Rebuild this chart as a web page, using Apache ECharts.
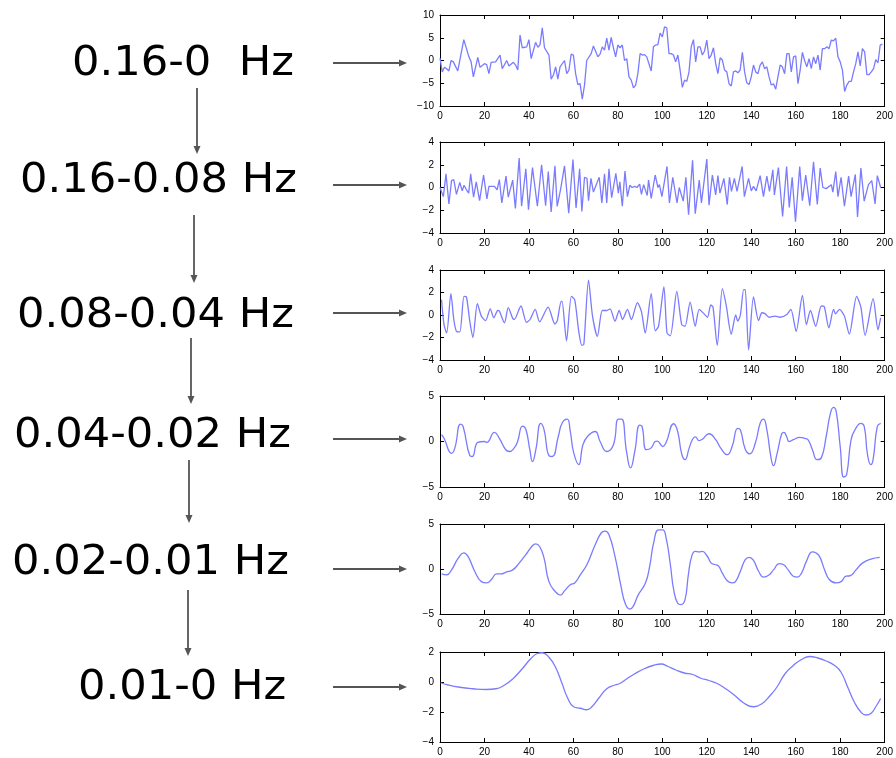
<!DOCTYPE html>
<html><head><meta charset="utf-8">
<script src="https://cdn.jsdelivr.net/npm/echarts@6/dist/echarts.min.js"></script>
<style>html,body{margin:0;padding:0;background:#fff}#c{width:896px;height:758px}</style>
</head><body><div id="c"></div><script>
// ---------- data ----------
const bandLabels = ['0.16-0  Hz', '0.16-0.08 Hz', '0.08-0.04 Hz', '0.04-0.02 Hz', '0.02-0.01 Hz', '0.01-0 Hz'];
const xTicks = [0, 20, 40, 60, 80, 100, 120, 140, 160, 180, 200];
const yTicks1 = [-10, -5, 0, 5, 10];
const yTicks2 = [-4, -2, 0, 2, 4];
const yTicks3 = [-4, -2, 0, 2, 4];
const yTicks4 = [-5, 0, 5];
const yTicks5 = [-5, 0, 5];
const yTicks6 = [-4, -2, 0, 2];

const p1x = [0,1,2,3,4, 5,6,8,10.7,13, 14,15,17,18,20, 21,22,23,25,27, 28,30,31,33,34, 35,36,37,39,40, 41,43,44,45,46, 47,49,50,51,52, 53,54,56,57,58, 59,60,61,62,63, 64,65,66,68,69, 71,72,73,74,75, 76,77,78,79,80, 81,82,83,84,85, 86,87,88,89,90, 91,92,93,95,96, 97,98,99,100,101, 102,103,104,105,106, 107,108,109,110,111, 112,113,114,115,116, 117,118,119,120,121, 122,123,124,125,126, 127,128,129,130,131, 132,133,134,135,136, 137,138,139,140,141, 142,143,144,145,146, 147,148,149,150,151, 152,153,154,155,156, 157,158,159,160,161, 162,163,164,165,166, 167,168,169,170,171, 172,173,174,175,176, 177,178,179,180,181, 182,183,184,185,186, 187,188,189,190,191, 192,193,194,195,196, 197,198,199];
const p1y = [0.5,-2.5,-1.5,-1.8,-2.3, 0,-0.3,-2.3,4.6,0.8, -0.3,-3.6,0.7,-1.5,-0.7, -0.9,-2.9,-0.4,-0.3,1.2, -1.8,0,-1.2,-0.4,-1.0, -2.1,5.6,2.8,3.0,4.6, 0.4,4.0,2.9,3.5,7.2, 2.8,1.2,-4.1,-3.2,-1.4, -4.1,-1.4,0,-2.9,-2.1, 1.4,1.2,-2.9,-5.3,-5.1, -8.5,-5.4,0,1.5,3.2, 0.8,1.4,3.0,2.3,4.9, 2.3,5.1,2.8,0.8,3.4, 2.8,3.4,0,0.4,-3.6, -4.3,-6.0,-5.4,-2.9,1.5, 1.2,1.3,0.8,-2.3,3.0, 3.4,3.5,6.0,5.2,7.4, 7.2,1.5,1.5,1.2,-0.3, 1.2,-2.1,-5.9,-4.3,-4.6, -2.5,3.0,4.6,-0.3,3.0, 3.0,1.2,2.1,4.5,0.4, 1.2,2.8,-0.7,-2.9,0.6, 0.1,-2.1,-2.5,-5.1,-5.6, -2.5,-2.3,-2.7,-2.1,1.8, -2.5,-4.9,-5.3,-3.6,-1.0, -2.5,-2.9,-1.0,-0.3,-1.8, -1.4,-3.6,-5.4,-5.1,-6.3, -3.6,-1.0,-1.4,-2.9,1.5, 1.5,-2.5,0.8,1.0,-5.1, -2.1,1.8,0,-1.4,0.4, -1.8,0.8,-0.7,1.2,-2.1, 2.6,2.6,3.0,2.6,4.5, 4.3,4.9,0.8,-0.3,-2.1, -6.8,-5.4,-4.6,-4.6,-2.5, -0.7,1.9,-1.2,2.6,1.9, -3.1,-3.1,-2.5,-1.8,0.2, -0.5,3.4,3.6];

const p2x = [0,1.5,2.7,4,5.2, 6.2,7.4,8.9,10,10.8, 11.9,12.9,13.8,15.1,16.3, 17,17.8,19.6,21.1,22, 24.5,25.7,26.7,27.8,29.7, 30.7,32.7,33.9,35.6,36.7, 38.6,39.8,41.6,43.8,45.7, 47.5,48.7,50,51.7,52.7, 54.2,56,57.9,59.8,61.2, 62.8,63.8,65,66.1,66.8, 67.9,69,71.6,72.8,74, 75,76,77.2,79.1,80.2, 80.9,82,83.2,84.3,85.4, 86.4,87.6,88.6,89.8,90.6, 91.6,92.4,93.2,93.8,95, 96.8,98,98.7,99.8,102.1, 103.2,104.7,106.6,107.6,109.4, 110.6,111.8,113.6,114.8,116.6, 117.6,120,121,122.5,124, 125,125.9,127.7,129.2,130.2, 131.1,132.4,133.6,134.4,135.9, 136.9,138.8,140,141,142.2, 143,144,145.5,147,148.2, 149.7,150.4,152.2,154.1,155.9, 157.1,158.4,159.9,161.8,163, 164.5,166.3,168,169.7,171, 172.2,173.7,176,176.7,178, 179,180.4,181.9,183.8,184.9, 186.8,187.8,189.3,190.8,192.7, 194.2,195.7,196.7,198.2];
const p2y = [0,-0.8,1.2,-1.45,0.6, 0.7,-0.6,0.45,-0.3,0.2, -0.2,-0.5,1.2,-0.85,0.5, 0.45,-1.15,1.1,-1.0,0.1, 0.1,-0.2,0.7,-1.35,1.0, -0.85,0.65,-1.85,2.6,-1.65, 1.65,-1.95,1.75,-1.65,2.0, -1.6,1.4,-2.15,1.9,-1.65, -0.2,1.9,-2.25,2.45,-1.8, 1.65,-2.1,0.9,0.8,-1.15, 0.8,-0.4,0.9,-1.35,1.2, -1.35,1.65,-0.9,1.25,-0.5, 0.5,-1.65,1.45,-0.8,0.2, 0,0.1,0,0.3,-0.6, 0.25,0.15,-0.7,0.65,-0.95, 1.1,0,0.25,-0.8,1.85, -1.35,0.9,-1.35,0,-1.2, 0.9,-2.4,2.4,-2.3,0.65, -1.35,2.5,-1.55,1.1,-0.65, 1.05,-0.5,0.8,-1.5,0.9, -0.35,0.8,-0.35,-0.2,1.85, -0.8,0.8,-0.3,0.1,-0.3, -0.2,1.05,-0.8,1.0,-0.35, 1.55,-0.65,1.75,-2.55,1.85, -1.75,0.9,-3.0,1.85,-1.15, 1.1,-1.6,2.25,-1.5,1.7, 0,-0.1,0.25,-0.4,1.4, -0.8,0.9,-1.65,1.0,-0.8, 1.15,-2.6,1.7,-1.2,0.25, 0.6,-1.45,1.05,0];

const p3x = [0.7,1.8,3,4.9,6.2, 7.4,8.9,10.8,11.9,13.4, 14.8,16.8,18.6,20.5,22.6, 24.2,26,26.7,29,30.7, 32.7,33.4,36.4,38.9,40.5, 42.8,44.8,48.6,51.7,52.7, 54.5,54.9,56.9,59.1,60.6, 62.4,63.8,64.7,66.8,68.6, 70.8,73,75,76.5,78.7, 80.6,82.1,84.3,86.1,88.8, 90.6,92.3,95,96.8,98.3, 100.7,102.1,103.6,106.5,108.7, 110.2,112.5,114.8,116.6,118.8, 120.3,121.8,122.8,124.7,127, 128.7,131,133,133.9,135.1, 136.6,137.3,138.8,141,143.3, 144.8,146.3,148,150.7,153, 156,157.8,160.2,163,164.8, 166.6,169,171.5,172.8,174.9, 177,177.9,179.7,181.9,184.1, 187.4,189.3,191.2,194.8,197, 198.2];
const p3y = [1.35,-0.85,-1.6,1.9,-0.4, -1.45,-1.5,1.65,1.6,-0.55, -2.0,1.0,-0.1,-0.5,0.55, -0.25,0.4,0.35,-0.7,0.65, -0.3,-0.4,0.8,-0.65,-0.4, 0.5,-0.6,0.7,-0.8,-0.55, 1.2,1.2,-2.3,1.65,1.35, -1.45,-2.7,-2.6,3.1,-0.1, -1.9,0.4,0.4,0.55,-0.55, 0.4,-0.4,0.5,-0.4,1.1, 0.3,-1.6,1.9,-1.4,-1.0, 2.5,-1.6,-1.85,2.1,-0.85, -1.0,1.15,-1.0,0.5,0.1, -0.2,0.9,0.7,-2.7,2.35, 0.9,-1.7,0,-0.55,0, 2.25,2.25,-3.1,1.6,-0.5, 0.2,0.1,-0.2,-0.1,-0.2, 0.05,0.5,-1.45,1.75,-0.85, 0.4,-1.0,0.8,0.75,-1.15, 0.5,0.1,0.5,-0.1,-1.7, 1.65,0.7,-1.8,1.45,-1.3, -0.25];

const p4x = [0.7,1.8,5.2,6.7,9.2, 10.4,13.4,14.5,17,20, 21,24.5,26.7,29.4,31.2, 33.4,34.9,37.1,38.6,40.4, 41.6,43.1,45.3,46.8,49, 50.5,53.2,54.9,57.2,58.6, 60.1,62.4,64.3,66.5,69.8, 72,75,78,80.2,81.7, 83.9,85.7,87.6,89.8,90.9, 92.8,95,96.8,97.7,100.2, 101.7,105.1,106.9,108.7,110.2, 112.1,113.6,114.8,116.6,118, 121,124,126.2,129.2,131.4, 133.9,135.1,137.3,139.3,141.8, 144,145.5,147,148.8,150, 151.5,153.7,154.7,155.9,157, 158.9,161.8,164,165.5,167.5, 169.6,171.5,173.7,175.6,177, 178.2,180,181.6,182.9,184.9, 186.8,189.3,190.8,192.3,193.8, 194.8,196.7,198.2];
const p4y = [0.75,0.35,-1.3,-0.7,1.9, 1.65,-1.55,-1.65,-0.1,0, -0.1,1.0,0.35,-0.85,-1.1, -0.7,0,1.7,1.35,-0.9, -2.2,-0.9,2.0,1.3,-1.55, -1.65,0.55,2.0,2.45,1.1, -1.2,-2.55,-0.35,0.6,1.1, 0,-1.1,-0.35,2.45,2.45, -1.1,-2.9,-1.1,1.8,1.65, -0.9,-0.7,0,0.05,-0.55, -0.1,1.95,1.1,-1.35,-2.0, -0.7,0.25,0.5,0.1,0.25, 0.85,0.2,-0.7,-1.45,-0.55, 1.45,1.3,-0.85,-1.35,-0.2, 2.0,2.45,1.3,-1.65,-2.65, -1.45,0.85,1.0,0.55,0, 0.2,0.45,0.35,0.2,-0.9, -2.0,-1.8,0.55,3.1,3.75, 3.3,-0.55,-3.9,-3.65,0.2, 1.35,2.0,1.65,-1.45,-2.55, -2.0,1.65,2.0];

const p5x = [0.7,3,5.2,8.2,10.7, 12.6,15.6,18.6,21.1,23, 25.5,27.5,29.7,32.7,35.6, 38.6,41.3,43,44.8,46.8, 49,52,54.2,56.1,58.6, 60.6,63.1,66.1,69.8,72.5, 74.2,76,78.7,81.4,83.4, 85.4,86.9,89.1,92.4,94.3, 96.2,98.3,100.2,101.7,103.6, 105.1,106.9,108.4,110.2,111.7, 113.2,114.8,116.6,118,120, 122,123.5,125,127,129.2, 131.4,132.9,135.1,137.3,139.1, 141,143.3,145.5,147.8,150, 152.6,154.4,156.6,158.9,160.7, 162.6,164.8,167.5,169,170.7, 173,175.2,178.2,180.4,182.6, 184.4,187.1,190,193.8,197.8];
const p5y = [-0.55,-0.65,-0.1,1.2,1.8, 1.4,-0.25,-1.4,-1.55,-1.2, -0.55,-0.55,-0.35,-0.1,0.65, 1.6,2.5,2.8,2.5,1.2, -1.4,-2.55,-2.9,-2.4,-1.75, -1.55,-0.65,0.5,2.7,4.0, 4.2,3.8,1.4,-1.9,-3.9, -4.45,-4.15,-2.9,-1.55,0.3, 3.05,4.35,4.35,3.45,0.5, -2.3,-3.8,-3.95,-3.4,-0.65, 1.4,1.95,1.9,1.95,1.5, 0.65,0.5,0.4,-0.45,-1.3, -1.55,-1.4,-0.25,1.05,1.3, 0.95,-0.25,-0.9,-0.7,-0.1, 0.6,0.5,-0.1,-0.8,-0.9, -0.45,0.85,1.9,1.8,1.4, -0.1,-1.2,-1.55,-1.4,-0.8, -0.75,-0.1,0.65,1.1,1.3];

const p6x = [0.3,3.7,8.9,14.8,20.8, 25.2,29,32.7,37.1,40.8, 43.8,46,49,51.9,54.9, 57.2,60.1,63.1,66,68.3, 71.3,75,78.7,80.9,83.9, 87.6,92.1,95.8,99.5,102.4, 106.1,109.9,113.6,117.3,121, 124.7,128.5,132.2,136.6,141, 144.8,148.5,151.5,155.2,158.9, 162.6,166.3,170,173.7,177.5, 180.4,183.4,186.4,189.3,191.6, 193.8,196,198.2];
const p6y = [-0.05,-0.2,-0.35,-0.45,-0.5, -0.45,-0.2,0.2,0.9,1.55, 1.9,1.95,1.65,1.0,-0.1, -1.0,-1.65,-1.75,-1.85,-1.65, -1.1,-0.45,-0.2,-0.1,0.2, 0.55,0.9,1.1,1.2,1.05, 0.8,0.6,0.5,0.25,0.1, -0.1,-0.45,-0.85,-1.4,-1.65, -1.45,-0.9,-0.35,0.55,1.1, 1.5,1.7,1.6,1.4,1.1, 0.65,-0.35,-1.35,-2.0,-2.2, -2.1,-1.65,-1.1];

// ---------- build ----------
const xs = [p1x, p2x, p3x, p4x, p5x, p6x];
const ys = [p1y, p2y, p3y, p4y, p5y, p6y];
const yTicks = [yTicks1, yTicks2, yTicks3, yTicks4, yTicks5, yTicks6];
const smoothing = [false, false, 0.25, 0.5, 0.5, 0.5];
const gridTops = [15, 142, 270, 396, 524, 652];
const gridHeights = [91, 91, 90, 91, 90, 90];

const labelFont = 'Liberation Sans, Arial, Helvetica, sans-serif';
const fmt = v => String(v).replace('-', '\u2212');

const grids = [], xAxes = [], yAxes = [], series = [];
for (let i = 0; i < 6; i++) {
  grids.push({ left: 440, width: 448, top: gridTops[i], height: gridHeights[i] });
  const axBase = {
    gridIndex: i, type: 'value',
    axisLine: { show: true, onZero: false, lineStyle: { color: '#000', width: 1 } },
    axisTick: { show: true, inside: true, length: 4, lineStyle: { color: '#000', width: 1 } },
    splitLine: { show: false }
  };
  const xmin = xTicks[0], xmax = xTicks[xTicks.length - 1], xint = xTicks[1] - xTicks[0];
  xAxes.push(Object.assign({}, axBase, { position: 'bottom', min: xmin, max: xmax, interval: xint,
    axisLabel: { show: true, fontSize: 10, color: '#000', margin: 5, fontFamily: labelFont, formatter: fmt } }));
  xAxes.push(Object.assign({}, axBase, { position: 'top', min: xmin, max: xmax, interval: xint, axisLabel: { show: false } }));
  const yt = yTicks[i];
  const ymin = yt[0], ymax = yt[yt.length - 1], yint = yt[1] - yt[0];
  yAxes.push(Object.assign({}, axBase, { position: 'left', min: ymin, max: ymax, interval: yint,
    axisLabel: { show: true, fontSize: 10, color: '#000', margin: 6, fontFamily: labelFont, formatter: fmt } }));
  yAxes.push(Object.assign({}, axBase, { position: 'right', min: ymin, max: ymax, interval: yint, axisLabel: { show: false } }));
  series.push({
    type: 'line', xAxisIndex: 2 * i, yAxisIndex: 2 * i,
    data: xs[i].map((x, k) => [x, ys[i][k]]),
    showSymbol: false, symbol: 'none',
    smooth: smoothing[i],
    lineStyle: { color: '#7b7bff', width: 1.3 },
    animation: false
  });
}

// ---------- annotations (labels and arrows) ----------
const labelX = [72, 20, 17, 14, 12, 78];
const labelY = [65, 182, 317, 437, 564, 689];
const hArrowY = [63, 185, 313, 439, 569, 687];
const vArrows = [[197, 88, 153], [194, 215, 282], [191, 338, 403], [189, 460, 522], [188, 590, 655]];
const arrowColor = '#555';
const graphics = [];
for (let i = 0; i < 6; i++) {
  graphics.push({ type: 'text', x: labelX[i], y: labelY[i], scaleX: 1.08, originX: 0,
    style: { text: bandLabels[i], font: '40px "DejaVu Sans"', fill: '#000', verticalAlign: 'middle', align: 'left' } });
  const y = hArrowY[i];
  graphics.push({ type: 'line', shape: { x1: 333, y1: y, x2: 400, y2: y }, style: { stroke: arrowColor, lineWidth: 1.8 } });
  graphics.push({ type: 'polygon', shape: { points: [[407, y], [399, y - 3.5], [399, y + 3.5]] }, style: { fill: arrowColor } });
}
vArrows.forEach(([x, y1, y2]) => {
  graphics.push({ type: 'line', shape: { x1: x, y1: y1, x2: x, y2: y2 - 6 }, style: { stroke: arrowColor, lineWidth: 1.8 } });
  graphics.push({ type: 'polygon', shape: { points: [[x, y2 + 1], [x - 3.5, y2 - 7], [x + 3.5, y2 - 7]] }, style: { fill: arrowColor } });
});

const chart = echarts.init(document.getElementById('c'), null, { renderer: 'canvas' });
chart.setOption({
  animation: false,
  backgroundColor: '#fff',
  grid: grids, xAxis: xAxes, yAxis: yAxes, series: series,
  graphic: graphics
});
</script></body></html>
